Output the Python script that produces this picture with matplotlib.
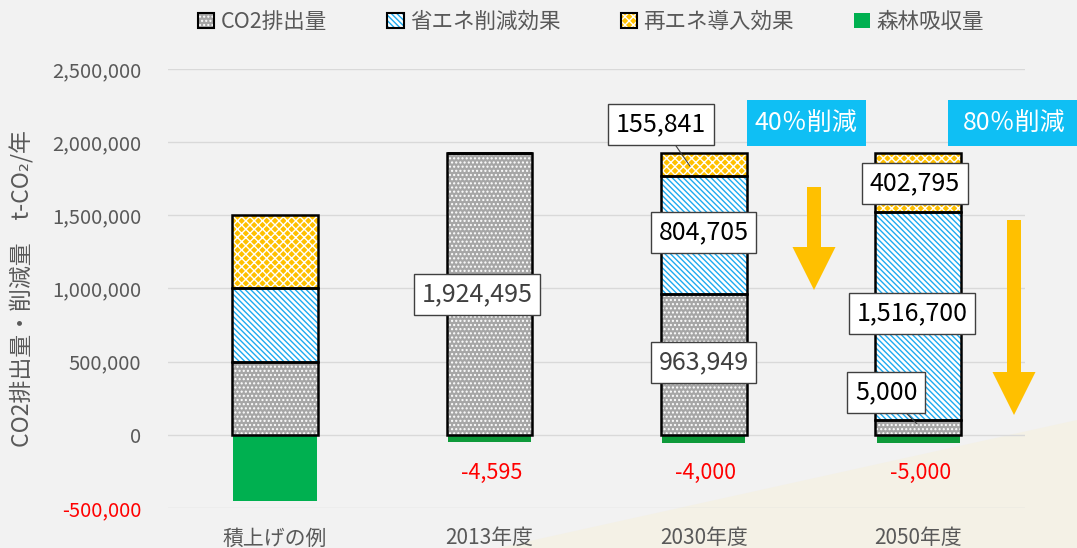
import numpy as np
import matplotlib.pyplot as plt
from matplotlib.patches import Patch, Polygon, Rectangle, FancyArrow
from matplotlib.legend_handler import HandlerTuple

plt.rcParams['font.family'] = ['Noto Sans CJK JP', 'DejaVu Sans']
plt.rcParams['hatch.linewidth'] = 1.0

# データ（棒の高さは図に描かれている通り、ラベルは表示されている数値）
categories = ['積上げの例', '2013年度', '2030年度', '2050年度']
co2 = [500000, 1924495, 963949, 100000]
shoene = [500000, 0, 804705, 1420000]
saiene = [500000, 0, 155841, 404495]
forest = [-455000, -48000, -55000, -55000]
forest_labels = ['', '-4,595', '-4,000', '-5,000']
series_names = ['CO2排出量', '省エネ削減効果', '再エネ導入効果', '森林吸収量']
yticks = [-500000, 0, 500000, 1000000, 1500000, 2000000, 2500000]

W, H = 1077, 548
fig = plt.figure(figsize=(W / 100, H / 100), dpi=100, facecolor='#F2F2F2')
ax = fig.add_axes([167.8 / W, 40 / H, 857.6 / W, 439 / H])
ax.set_facecolor('none')

# 背景の三角形
fig.patches.append(Polygon([(498 / W, 0), (1, 1 - 420 / H), (1, 0)], closed=True,
                           transform=fig.transFigure, facecolor='#F4F1E6',
                           edgecolor='none', zorder=-1))

x = np.arange(len(categories))
w = 0.4
gray, blue, yellow = '#A6A6A6', '#1DAAF0', '#FFC000'
hatch_blue = '\\' * 6


def layer(vals, bottom, fc, hc, hatch):
    ax.bar(x, vals, w, bottom=bottom, color=fc, edgecolor=hc, hatch=hatch,
           linewidth=0, zorder=2)
    ax.bar(x, vals, w, bottom=bottom, fill=False, edgecolor='black',
           linewidth=1.8, zorder=3)


b1 = np.array(co2)
b2 = b1 + np.array(shoene)
layer(co2, 0, gray, 'white', '....')
layer(shoene, b1, 'white', blue, hatch_blue)
layer(saiene, b2, yellow, 'white', 'xxxx')
ax.bar(x, forest, w * 0.97, color=['#00B050', '#0E9A3A', '#0E9A3A', '#0E9A3A'],
       linewidth=0, zorder=2)

# 軸
ax.set_xlim(-0.5, 3.5)
ax.set_ylim(-500000, 2500000)
ax.set_yticks(yticks)
ax.set_yticklabels([f'{v:,}' for v in yticks])
ax.set_xticks(x)
ax.set_xticklabels(categories)
ax.tick_params(axis='y', length=0, pad=19, labelsize=14.5, labelcolor='#595959')
ax.tick_params(axis='x', length=0, pad=14, labelsize=15, labelcolor='#595959')
ax.get_yticklabels()[0].set_color('red')
for s in ax.spines.values():
    s.set_visible(False)
ax.yaxis.grid(True, color='#D9D9D9', linewidth=1)
ax.set_axisbelow(True)
ax.set_ylabel('CO2排出量・削減量　t-CO₂/年', fontsize=16.5, color='#595959')
ax.yaxis.set_label_coords(-0.155, 0.5)

# データラベル
box = dict(boxstyle='square,pad=0.3', facecolor='white', edgecolor='#404040', linewidth=1)
labels = [
    ('155,841', 1.80, 2123000, 'black', (1.936, 1835600)),
    ('804,705', 2.0, 1383600, 'black', None),
    ('1,924,495', 0.942, 958900, '#404040', None),
    ('963,949', 2.0, 493150, '#404040', None),
    ('402,795', 2.985, 1719000, 'black', None),
    ('1,516,700', 2.971, 828800, 'black', None),
    ('5,000', 2.85, 287700, 'black', (2.994, 75300)),
]
for txt, lx, ly, col, pt in labels:
    if pt is None:
        ax.text(lx, ly, txt, ha='center', va='center', fontsize=18, color=col,
                bbox=box, zorder=5)
    else:
        ax.annotate(txt, xy=pt, xytext=(lx, ly), ha='center', va='center',
                    fontsize=18, color=col, bbox=box, zorder=5,
                    arrowprops=dict(arrowstyle='-', color='#404040', lw=0.8,
                                    shrinkA=0, shrinkB=0))
for i, t in enumerate(forest_labels):
    if t:
        ax.text(x[i] + 0.01, -260000, t, ha='center', va='center', fontsize=15.5,
                color='red')

# 削減率ボックス
for left, bw, cx, txt in [(747, 119, 806, '40％削減'), (948, 135, 1014, '80％削減')]:
    fig.patches.append(Rectangle((left / W, 1 - 146 / H), bw / W, 46 / H,
                                 transform=fig.transFigure, facecolor='#0FBFF4',
                                 edgecolor='none', zorder=4))
    fig.text(cx / W, 1 - 123 / H, txt, ha='center', va='center', fontsize=18,
             color='white', zorder=5)

# 矢印
for ax_px, y0, y1 in [(814, 187, 290), (1014, 220, 415)]:
    fig.patches.append(FancyArrow(ax_px / W, 1 - y0 / H, 0, -(y1 - y0) / H,
                                  width=14 / W, head_width=43 / W, head_length=43 / H,
                                  length_includes_head=True, transform=fig.transFigure,
                                  facecolor='#FFC000', edgecolor='none', zorder=4))

# 凡例
handles = [
    (Patch(facecolor=gray, edgecolor='white', hatch='....', linewidth=0),
     Patch(fill=False, edgecolor='black', linewidth=1.5)),
    (Patch(facecolor='white', edgecolor=blue, hatch=hatch_blue, linewidth=0),
     Patch(fill=False, edgecolor='black', linewidth=1.5)),
    (Patch(facecolor=yellow, edgecolor='white', hatch='xxxx', linewidth=0),
     Patch(fill=False, edgecolor='black', linewidth=1.5)),
    Patch(facecolor='#00B050', edgecolor='none'),
]
fig.legend(handles, series_names, loc='center', bbox_to_anchor=(0.549, 0.96),
           ncol=4, frameon=False, fontsize=15.5, handlelength=0.75, handleheight=0.75,
           columnspacing=2.8, handletextpad=0.3, labelcolor='#595959',
           handler_map={tuple: HandlerTuple(ndivide=1, pad=0)})

fig.savefig('out.png', dpi=100, facecolor=fig.get_facecolor())
